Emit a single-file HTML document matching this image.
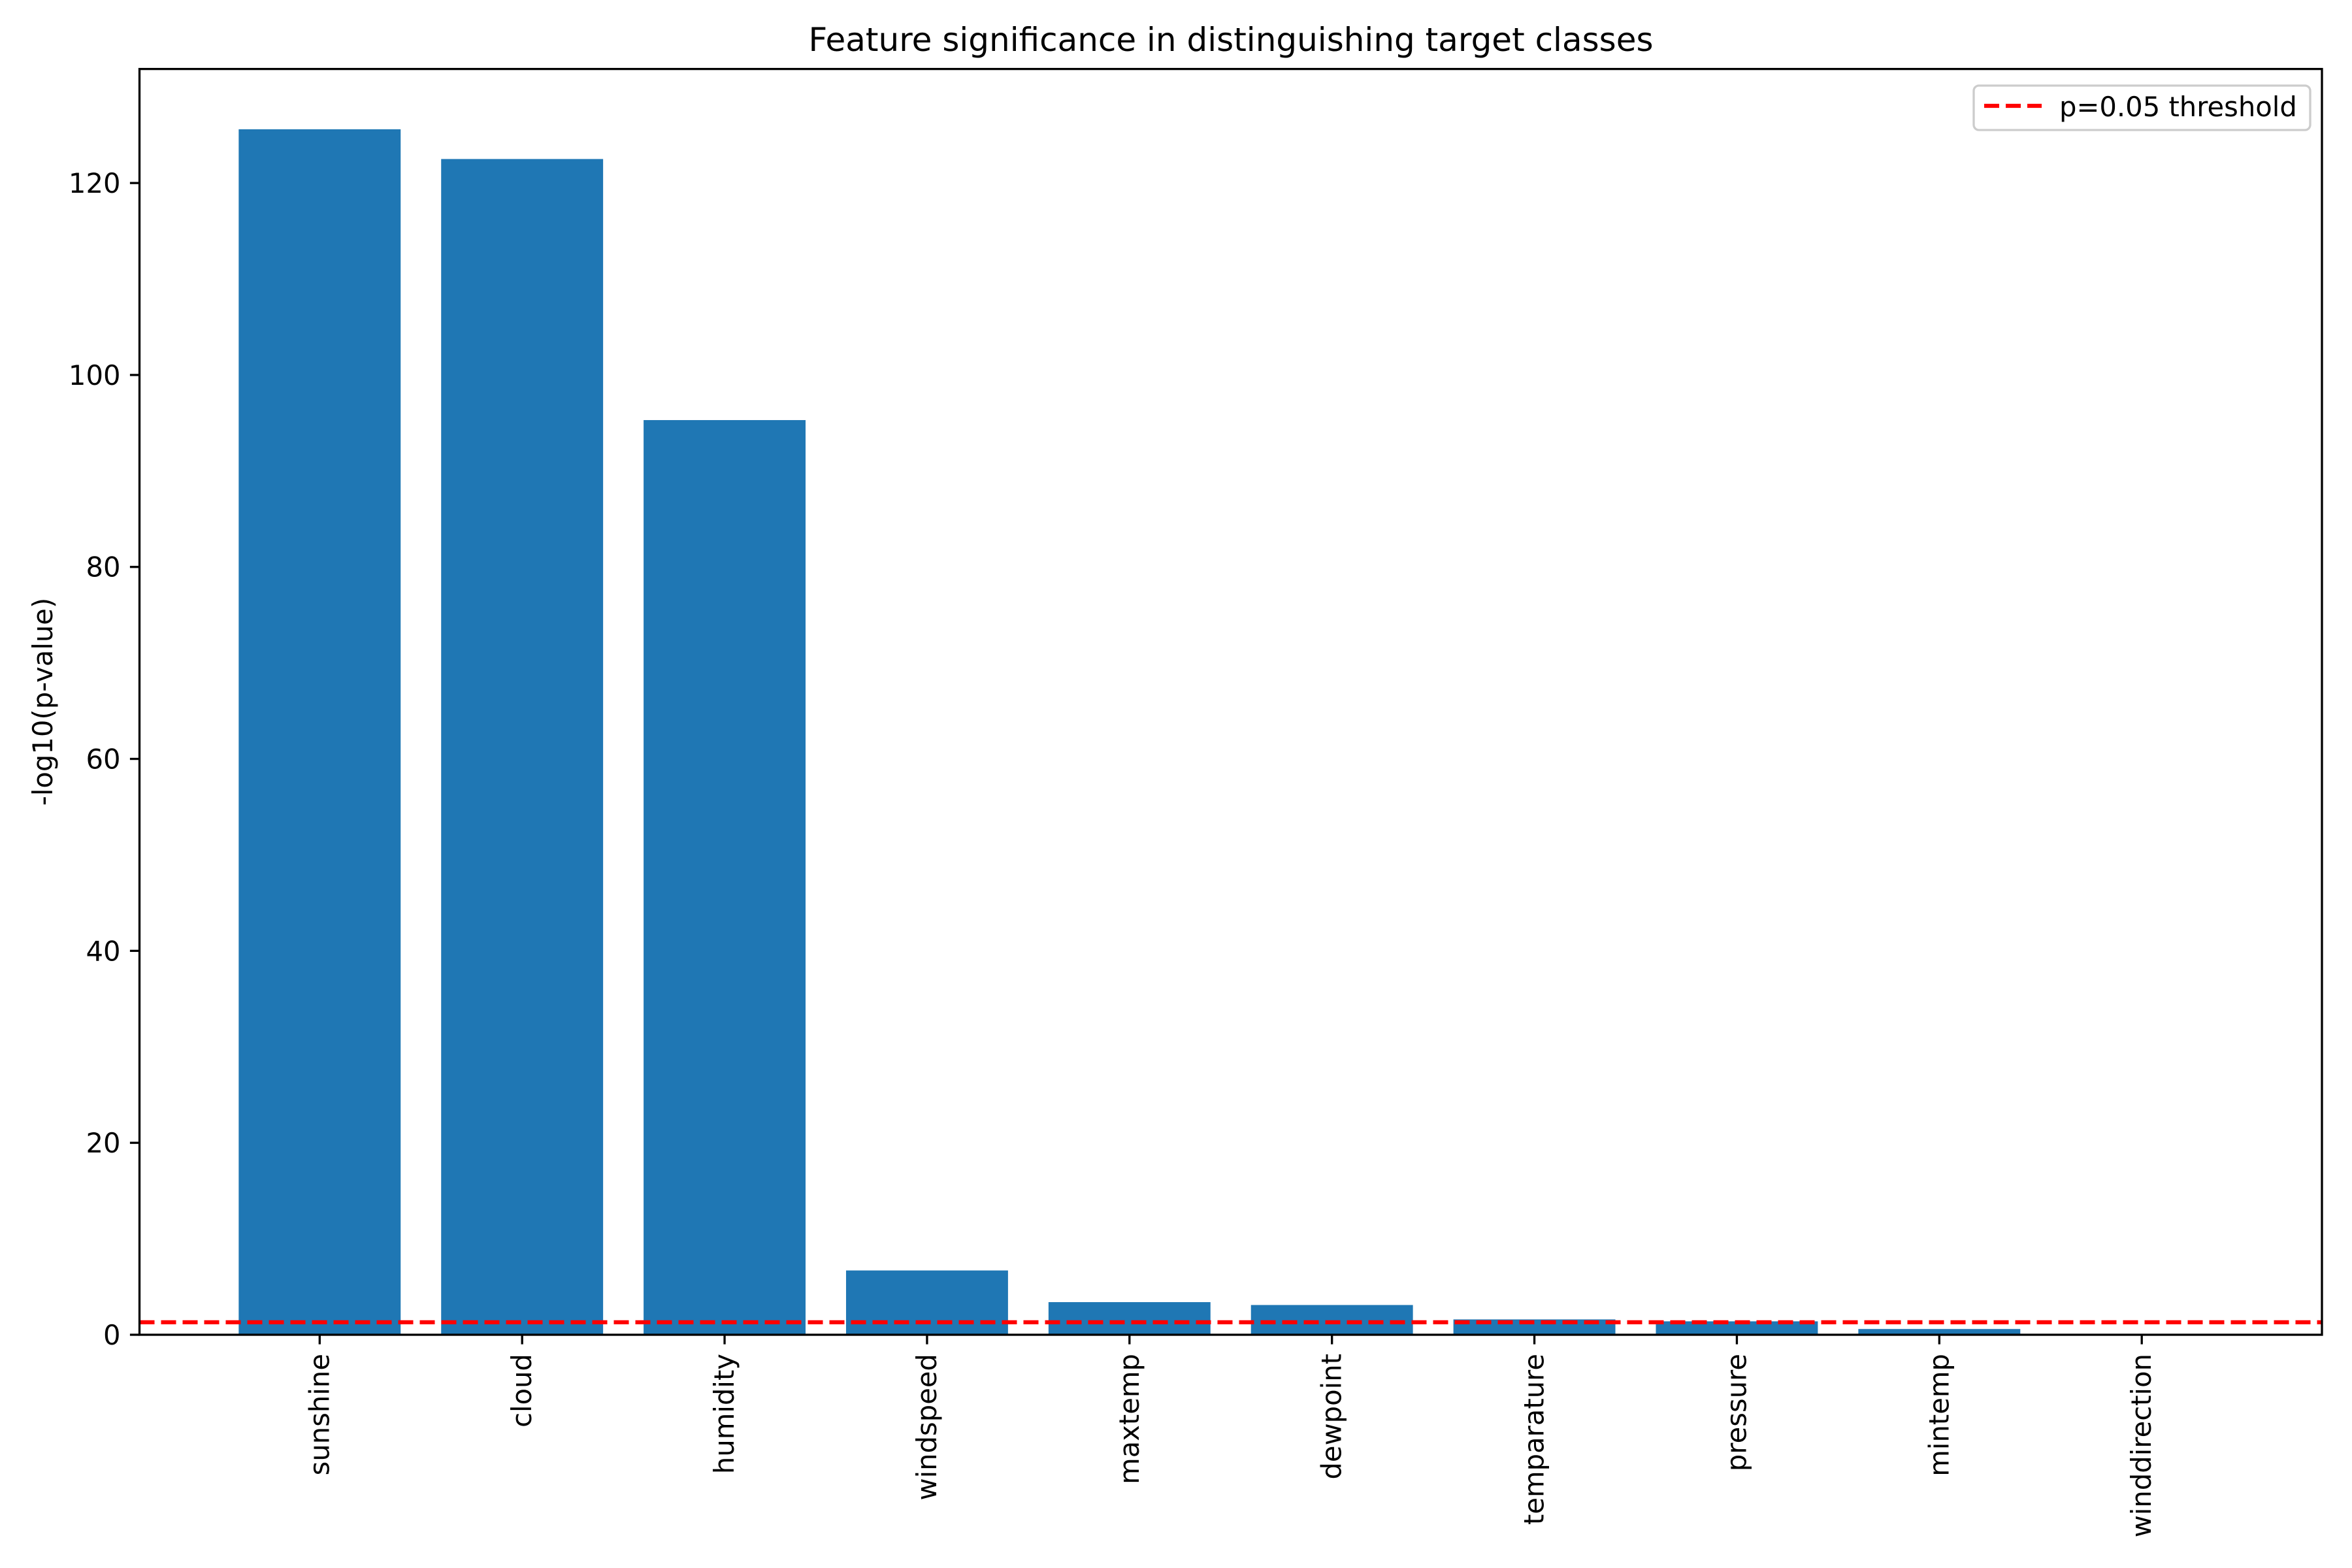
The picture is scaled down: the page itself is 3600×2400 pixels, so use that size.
<!DOCTYPE html>
<html><head><meta charset="utf-8"><style>html,body{margin:0;padding:0;background:#fff}svg{display:block}text{font-family:"DejaVu Sans","Liberation Sans",sans-serif;fill:#000}</style></head>
<body>
<svg id="chart" width="3600" height="2400" viewBox="0 0 3600 2400" xmlns="http://www.w3.org/2000/svg">
<rect width="3600" height="2400" fill="#fff"/>
<text x="1884" y="78" font-size="50" text-anchor="middle">Feature significance in distinguishing target classes</text>
<text transform="translate(80,1074) rotate(-90)" font-size="41.7" text-anchor="middle">-log10(p-value)</text>
<g id="plot"></g>
</svg>
<script>
const categories = ["sunshine","cloud","humidity","windspeed","maxtemp","dewpoint","temparature","pressure","mintemp","winddirection"];
const values = [125.6, 122.5, 95.3, 6.7, 3.4, 3.1, 1.6, 1.4, 0.6, 0.1];
const yTicks = [0, 20, 40, 60, 80, 100, 120];
const threshold = 1.301;
const legendLabel = "p=0.05 threshold";

const NS = "http://www.w3.org/2000/svg";
const L = 213.5, R = 3554, T = 105.6, B = 2043;
const xMin = -0.89, xMax = categories.length - 1 + 0.89;
const yMax = Math.max(...values) * 1.05;
const xs = v => L + (v - xMin) / (xMax - xMin) * (R - L);
const ys = v => B - v / yMax * (B - T);
const g = document.getElementById('plot');
function mk(tag, attrs, parent) { const e = document.createElementNS(NS, tag); for (const k in attrs) e.setAttribute(k, attrs[k]); (parent || g).appendChild(e); return e; }

categories.forEach((c, i) => {
  const bar = mk('rect', {x: xs(i - 0.4), y: ys(values[i]), width: xs(i + 0.4) - xs(i - 0.4), height: B - ys(values[i]), fill: '#1f77b4'});
  
  
  const tk = mk('line', {x1: xs(i), x2: xs(i), y1: B, y2: B + 14.6, stroke: '#000', 'stroke-width': 3.3});
  
  
  const t = mk('text', {transform: `translate(${xs(i) + 14},${B + 29}) rotate(-90)`, 'font-size': 41.7, 'text-anchor': 'end'});
  t.textContent = c;
  
  
});

yTicks.forEach(v => {
  const tk = mk('line', {x1: L - 14.6, x2: L, y1: ys(v), y2: ys(v), stroke: '#000', 'stroke-width': 3.3});
  
  
  const t = mk('text', {x: L - 29, y: ys(v) + 15, 'font-size': 41.7, 'text-anchor': 'end'});
  t.textContent = v;
  
  
});

const th = mk('line', {x1: L, x2: R, y1: ys(threshold), y2: ys(threshold), stroke: '#ff0000', 'stroke-width': 6.25, 'stroke-dasharray': '23 10'});



const frame = mk('rect', {x: L, y: T, width: R - L, height: B - T, fill: 'none', stroke: '#000', 'stroke-width': 3.3});



const lg = mk('g', {});


mk('rect', {x: 3021, y: 131, width: 515, height: 68, rx: 8, fill: '#fff', 'fill-opacity': 0.8, stroke: '#ccc', 'stroke-width': 3.3}, lg);
const ll = mk('line', {x1: 3037, x2: 3125, y1: 162, y2: 162, stroke: '#ff0000', 'stroke-width': 6.25, 'stroke-dasharray': '23 10'}, lg);


const lt = mk('text', {x: 3152, y: 178, 'font-size': 41.7}, lg);
lt.textContent = legendLabel;


</script>
</body></html>
